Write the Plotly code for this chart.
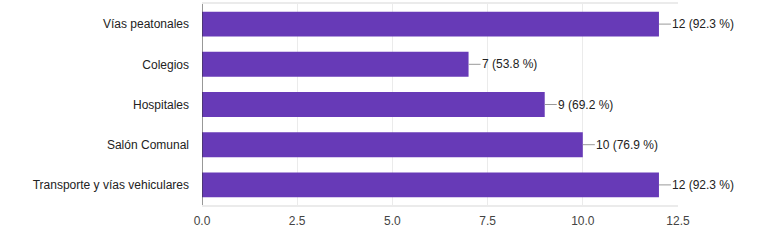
import plotly.graph_objects as go

categories = ["Vías peatonales", "Colegios", "Hospitales", "Salón Comunal", "Transporte y vías vehiculares"]
values = [12, 7, 9, 10, 12]
percents = ["92.3", "53.8", "69.2", "76.9", "92.3"]
x_ticks = [0, 2.5, 5, 7.5, 10, 12.5]
x_tick_labels = ["0.0", "2.5", "5.0", "7.5", "10.0", "12.5"]

font = "Arial, Liberation Sans, sans-serif"

fig = go.Figure(go.Bar(
    y=categories, x=values, orientation="h",
    marker=dict(color="#673AB7", line=dict(width=0)),
    width=0.62, hoverinfo="skip",
))

annotations = []
shapes = []
for c, v, p in zip(categories, values, percents):
    shapes.append(dict(type="line", xref="x", yref="y", xsizemode="pixel", xanchor=v,
                       x0=0, x1=12, y0=c, y1=c, line=dict(color="#999999", width=1)))
    annotations.append(dict(x=v, y=c, xref="x", yref="y", text=f"{v} ({p} %)",
                            showarrow=False, xanchor="left", xshift=11,
                            font=dict(family=font, size=12, color="#222222")))

fig.update_layout(
    width=759, height=244,
    margin=dict(l=202, r=81, t=2, b=39),
    paper_bgcolor="white", plot_bgcolor="white",
    showlegend=False,
    annotations=annotations, shapes=shapes,
    xaxis=dict(range=[0, 12.5], tickvals=x_ticks, ticktext=x_tick_labels,
               showgrid=True, gridcolor="#ebebeb", gridwidth=1,
               showline=True, linecolor="#ebebeb", linewidth=2, mirror=True,
               zeroline=False, ticks="", ticklabelstandoff=4,
               tickfont=dict(family=font, size=12, color="#444444")),
    yaxis=dict(categoryorder="array", categoryarray=categories[::-1],
               showgrid=False, zeroline=False,
               showline=False, ticks="", ticklabelstandoff=12,
               tickfont=dict(family=font, size=12, color="#222222")),
)
fig.add_shape(type="line", xref="x", yref="paper", x0=0, x1=0, y0=0, y1=1,
              line=dict(color="#333333", width=1))

fig.write_html("out.html", config={"displayModeBar": False},
               post_script="document.body.style.margin='0px';")
